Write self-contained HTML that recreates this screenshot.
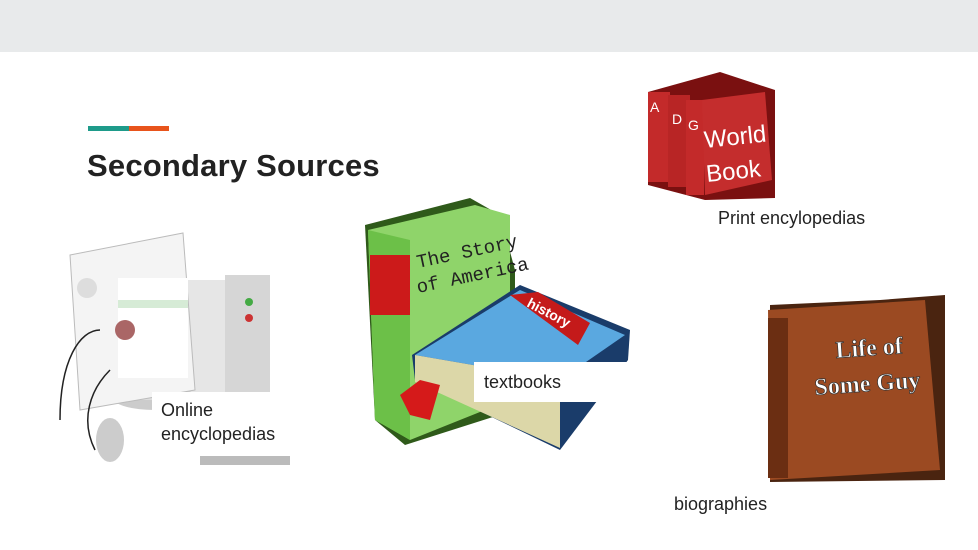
<!DOCTYPE html>
<html><head><meta charset="utf-8"><style>
body{margin:0;width:978px;height:550px;overflow:hidden;background:#fff;position:relative;font-family:"Liberation Sans",sans-serif}
.l{position:absolute;font-size:18px;color:#222;line-height:24px}
</style></head><body>
<div style="position:absolute;left:0;top:0;width:978px;height:52px;background:#e8eaeb"></div>
<div style="position:absolute;left:88px;top:126px;width:41px;height:5px;background:#1e9b8a"></div>
<div style="position:absolute;left:129px;top:126px;width:40px;height:5px;background:#e8541c"></div>
<div style="position:absolute;left:87px;top:148px;font-size:31px;font-weight:bold;color:#222;letter-spacing:0.2px">Secondary Sources</div>
<svg width="978" height="550" style="position:absolute;left:0;top:0">
<rect x="160" y="280" width="110" height="120" fill="#e6e6e6"/>
<rect x="225" y="275" width="45" height="125" fill="#d6d6d6"/>
<circle cx="249" cy="302" r="4" fill="#4a4"/><circle cx="249" cy="318" r="4" fill="#c33"/>
<ellipse cx="155" cy="398" rx="42" ry="12" fill="#ccc"/>
<rect x="138" y="360" width="30" height="40" fill="#ddd"/>
<polygon points="70,255 183,233 195,390 80,410" fill="#f4f4f4" stroke="#bbb"/>
<rect x="118" y="278" width="70" height="100" fill="#fff"/>
<rect x="118" y="300" width="70" height="8" fill="#d6ebd6"/>
<circle cx="87" cy="288" r="10" fill="#ddd"/>
<circle cx="125" cy="330" r="10" fill="#a66"/>
<ellipse cx="110" cy="440" rx="14" ry="22" fill="#ccc"/>
<path d="M60,420 C60,360 80,330 100,330" stroke="#222" fill="none" stroke-width="1.5"/>
<path d="M95,450 C80,420 90,390 110,370" stroke="#222" fill="none" stroke-width="1.5"/>
<rect x="200" y="455" width="90" height="10" fill="#bbb"/>
<polygon points="365,225 470,198 500,215 515,270 515,410 405,445 375,420" fill="#2f5a1a"/>
<polygon points="368,230 475,205 510,215 510,400 410,440 375,420" fill="#8fd46a"/>
<polygon points="368,230 410,240 410,440 375,420" fill="#6cc048"/>
<rect x="370" y="255" width="40" height="60" fill="#cc1a1a"/>
<text x="418" y="268" font-family="Liberation Mono,monospace" font-size="19" fill="#222" transform="rotate(-12 418 268)">The Story</text>
<text x="418" y="293" font-family="Liberation Mono,monospace" font-size="19" fill="#222" transform="rotate(-12 418 293)">of America</text>
<polygon points="412,355 520,285 630,330 628,360 560,450 415,380" fill="#1a3c6a"/>
<polygon points="415,355 520,290 625,335 560,380" fill="#5aa8e0"/>
<polygon points="415,355 560,380 560,448 415,382" fill="#dcd7a8"/>
<polygon points="510,295 538,292 590,323 578,345" fill="#c41a1a"/>
<text x="526" y="306" font-size="14" fill="#fff" font-weight="bold" transform="rotate(28 526 306)">history</text>
<polygon points="400,395 420,380 440,385 430,420 410,415" fill="#d51a1a"/>
<polygon points="648,92 720,72 775,90 775,198 705,200 648,185" fill="#7a1010"/>
<rect x="648" y="92" width="22" height="90" fill="#c32a2a"/>
<rect x="668" y="95" width="22" height="92" fill="#b82525"/>
<rect x="686" y="100" width="18" height="95" fill="#c32a2a"/>
<polygon points="702,100 765,92 772,180 705,195" fill="#c42d2d"/>
<text x="650" y="112" font-size="14" fill="#fff">A</text><text x="672" y="124" font-size="14" fill="#fff">D</text><text x="688" y="130" font-size="14" fill="#fff">G</text>
<text x="705" y="148" font-size="24" fill="#fff" transform="rotate(-6 705 148)">World</text>
<text x="707" y="182" font-size="24" fill="#fff" transform="rotate(-6 707 182)">Book</text>
<polygon points="770,305 880,300 945,295 945,480 770,482" fill="#4a2410"/>
<polygon points="768,310 925,300 940,470 770,480" fill="#9b4a22"/>
<rect x="768" y="318" width="20" height="160" fill="#6b2e12"/>
<text x="836" y="358" font-family="Liberation Serif,serif" font-weight="bold" font-size="24" fill="#fff" stroke="#333" stroke-width="0.7" transform="rotate(-4 836 358)">Life of</text>
<text x="815" y="395" font-family="Liberation Serif,serif" font-weight="bold" font-size="24" fill="#fff" stroke="#333" stroke-width="0.7" transform="rotate(-4 815 395)">Some Guy</text>
</svg>
<div style="position:absolute;left:474px;top:362px;width:154px;height:40px;background:#fff"></div>
<div style="position:absolute;left:152px;top:392px;width:140px;height:64px;background:#fff"></div>
<div class="l" style="left:718px;top:206px">Print encylopedias</div>
<div class="l" style="left:484px;top:370px">textbooks</div>
<div class="l" style="left:161px;top:398px">Online<br>encyclopedias</div>
<div class="l" style="left:674px;top:492px">biographies</div>
</body></html>
